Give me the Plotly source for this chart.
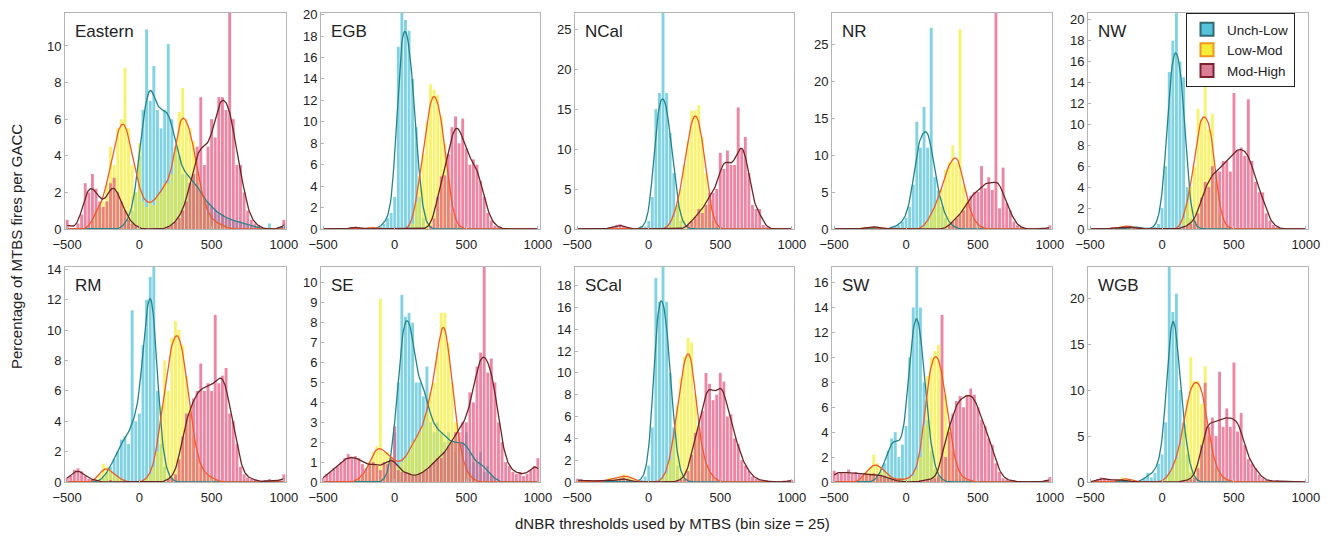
import numpy as np
import plotly.graph_objects as go

# ---------------- data ----------------
BIN_CENTERS = list(range(-500, 1001, 25))   # 61 bins (dNBR, bin size 25)
REGIONS = ["Eastern", "EGB", "NCal", "NR", "NW", "RM", "SE", "SCal", "SW", "WGB"]
SERIES = ["Unch-Low", "Low-Mod", "Mod-High"]
Y_MAX = [11.8, 20.15, 27.0, 29.2, 20.65, 14.15, 10.8, 19.7, 17.25, 23.4]
Y_DTICK = [2, 2, 5, 5, 2, 2, 1, 2, 2, 5]
X_TICKS = [-500, 0, 500, 1000]

# each list: centres -500..-275 | -250..-25 | 0..225 | 250..475 | 500..725 | 750..975 | 1000
EASTERN_UL = [0,0,0,0,0,0,0,0,0,0,
              0,0,0,0,0,0,0.3,0.5,1.0,2.0,
              4.0,6.5,10.9,7.0,8.9,6.5,5.5,6.5,10.1,6.0,
              4.5,4.0,3.0,3.0,2.5,3.0,2.5,2.0,1.5,1.5,
              1.2,1.0,0.8,0.8,0.6,0.5,0.5,0.4,0.4,0.3,
              0.2,0.2,0.1,0,0,0,0.3,0,0,0,
              0.3]
EASTERN_LM = [0,0,0,0,0,0,0,0.5,1.0,1.2,
              1.5,2.5,4.5,3.5,5.5,6.0,8.8,5.5,3.5,2.0,
              4.7,1.5,1.2,1.5,1.3,1.8,2.0,2.5,2.5,3.0,
              4.5,6.4,7.7,6.0,5.5,4.8,3.0,2.0,1.5,0.8,
              0.5,0.4,0.3,0.2,0.1,0,0,0,0,0,
              0,0,0,0,0,0,0,0,0,0,
              0]
EASTERN_MH = [0.5,0,0,0.3,0.8,2.5,2.0,3.0,2.2,1.5,
              1.2,1.5,2.5,2.8,2.0,1.5,1.0,0.5,0.3,0.2,
              0,0,0,0,0,0,0,0,0.1,0.2,
              0.4,0.6,1.0,1.5,2.5,3.0,4.5,7.2,3.5,4.5,
              6.0,5.0,7.2,7.2,6.5,11.8,6.0,3.5,3.5,2.0,
              1.0,0.5,0.3,0.2,0,0,0,0,0,0,
              0.5]

EGB_UL = [0,0,0,0,0,0,0,0,0,0,
          0,0,0,0,0,0,0.2,0.5,1.0,1.5,
          3.0,17.0,20.5,19.5,18.5,14.0,9.5,3.0,1.0,0.3,
          0,0,0,0,0,0,0,0,0,0,
          0,0,0,0,0,0,0,0,0,0,
          0,0,0,0,0,0,0,0,0,0,
          0]
EGB_LM = [0,0,0,0,0,0,0,0,0,0,
          0,0,0,0.2,0.2,0,0,0,0,0,
          0,0,0,0,0,0.5,2.5,5.0,7.0,10.0,
          13.5,13.0,12.5,10.5,8.0,4.5,1.5,0.5,0.2,0,
          0,0,0,0,0,0,0,0,0,0,
          0,0,0,0,0,0,0,0,0,0,
          0]
EGB_MH = [0,0,0,0,0,0,0,0,0.2,0.2,
          0.1,0,0,0,0,0,0,0,0,0,
          0,0,0,0,0,0,0,0,0,0,
          0.3,1.0,3.0,4.9,5.0,7.0,9.5,10.5,8.0,10.3,
          7.5,6.0,6.5,6.0,4.5,3.0,1.5,0.8,0.3,0.2,
          0,0,0,0,0,0,0,0,0,0,
          0]

NCAL_UL = [0,0,0,0,0,0,0,0,0,0,
           0,0,0,0,0,0,0,0,0.2,0.3,
           1.0,4.0,15.0,17.0,27.5,17.0,12.0,7.0,3.0,1.0,
           0.3,0,0,0,0,0,0,0,0,0,
           0,0,0,0,0,0,0,0,0,0,
           0,0,0,0,0,0,0,0,0,0,
           0]
NCAL_LM = [0,0,0,0,0,0,0,0,0,0,
           0,0,0,0,0,0,0,0,0,0,
           0,0,0,0,0,0,0.5,1.5,3.0,5.0,
           8.0,11.0,14.8,14.8,15.5,11.5,7.0,3.0,1.0,0.3,
           0,0,0,0,0,0,0,0,0,0,
           0,0,0,0,0,0,0,0,0,0,
           0]
NCAL_MH = [0,0,0,0,0,0,0,0,0,0.1,
           0.3,0.5,0.6,0.4,0.2,0,0,0,0,0,
           0,0,0,0,0,0,0,0,0,0,
           0,0.5,1.0,1.5,2.5,2.0,3.0,4.5,4.5,5.0,
           9.5,7.5,9.8,8.0,8.0,15.2,10.0,11.5,7.0,3.0,
           2.5,2.5,0.5,0.2,0,0,0,0,0,0,
           0]

NR_UL = [0,0,0,0,0,0,0,0,0,0,
         0,0,0,0,0,0,0.2,0.3,0.5,1.0,
         1.5,3.0,6.0,14.5,11.0,16.5,11.0,27.2,7.0,5.2,
         3.0,1.5,0.8,0.3,0.1,0,0,0,0,0,
         0,0,0,0,0,0,0,0,0,0,
         0,0,0,0,0,0,0,0,0,0,
         0]
NR_LM = [0,0,0,0,0,0,0,0,0.2,0.2,
         0.2,0.2,0.2,0.2,0.1,0,0,0,0,0,
         0,0,0,0,0,0.3,1.0,2.0,3.0,4.0,
         5.5,8.0,9.0,11.3,9.0,27.0,6.0,4.0,2.0,1.0,
         0.4,0.2,0,0,0,0,0,0,0,0,
         0,0,0,0,0,0,0,0,0,0,
         0]
NR_MH = [0,0,0,0,0,0,0,0,0,0.2,
         0.3,0.3,0.3,0.2,0,0,0,0,0,0,
         0,0,0,0,0,0,0,0,0,0,
         0,0,0.5,1.0,1.5,2.0,2.5,3.5,4.5,5.0,
         5.0,8.5,5.5,7.0,5.3,29.5,2.8,8.3,3.5,2.5,
         1.0,0.5,0.2,0,0,0,0,0,0,0,
         0.5]

NW_UL = [0,0,0,0,0,0,0,0,0,0,
         0,0.2,0.2,0.2,0.2,0,0,0,0.2,0.5,
         2.0,6.0,15.0,18.0,20.8,16.0,14.5,4.0,1.0,0.3,
         0,0,0,0,0,0,0,0,0,0,
         0,0,0,0,0,0,0,0,0,0,
         0,0,0,0,0,0,0,0,0,0,
         0]
NW_LM = [0,0,0,0,0,0,0,0,0.2,0.3,
         0.3,0.3,0.2,0,0,0,0,0,0,0,
         0,0,0,0,0,0,1.0,2.5,4.0,6.0,
         11.5,10.5,14.0,9.5,11.0,4.5,1.5,0.5,0.2,0,
         0,0,0,0,0,0,0,0,0,0,
         0,0,0,0,0,0,0,0,0,0,
         0]
NW_MH = [0,0,0,0,0,0,0.1,0.1,0.1,0.1,
         0.2,0.3,0.2,0,0,0,0,0,0,0,
         0,0,0,0,0,0,0.2,0.3,0.5,0.8,
         1.5,3.0,4.5,4.0,6.0,5.5,5.5,6.5,6.5,5.5,
         13.0,7.5,7.8,7.0,12.4,6.5,4.5,3.5,3.5,1.5,
         0.8,0.4,0.2,0,0,0,0,0,0,0,
         0]

RM_UL = [0,0,0,0,0,0,0,0,0,0,
         0.3,0.6,1.0,1.5,2.0,2.8,3.0,2.5,11.3,4.0,
         4.5,9.0,12.0,13.5,14.2,6.0,2.5,1.0,0.3,0.1,
         0,0,0,0,0,0,0,0,0,0,
         0,0,0,0,0,0,0,0,0,0,
         0,0,0,0,0,0,0,0,0,0,
         0]
RM_LM = [0,0,0,0,0,0,0,0,0.2,0.5,
         1.2,1.0,0.8,0.5,0.3,0.2,0,0,0,0,
         0,0,0.2,0.5,1.0,2.0,5.0,8.0,6.0,9.5,
         10.6,10.0,9.0,7.0,5.0,3.0,1.5,1.0,0.6,0.4,
         0.3,0.2,0,0,0,0,0,0,0,0,
         0,0,0,0,0,0,0,0,0,0,
         0]
RM_MH = [0.3,0.4,0.8,0.9,0.7,0.4,0.2,0.2,0.1,0,
         0,0,0.1,0,0,0,0,0,0,0,
         0,0,0,0,0,0,0,0,0.2,0.3,
         0.5,1.5,3.0,4.5,4.5,5.5,6.0,7.8,6.0,6.5,
         6.0,11.0,6.5,7.0,7.5,4.5,4.0,2.5,1.0,0.5,
         0.3,0.2,0.2,0,0,0.1,0.2,0,0,0.1,
         0.5]

SE_UL = [0,0,0,0,0,0,0,0,0,0,
         0,0,0,0,0,0,0,0,0.3,1.0,
         2.5,5.0,9.4,8.3,8.5,8.0,5.0,5.0,4.3,5.8,
         3.0,2.5,3.0,2.5,2.0,2.5,2.0,1.5,2.0,2.0,
         2.5,1.5,1.0,1.0,1.5,0.5,0.8,0.3,0.2,0,
         0,0,0,0,0,0,0,0,0,0,
         0]
SE_LM = [0,0,0,0,0,0,0,0,0,0,
         0.2,0.3,0.5,1.0,1.5,1.8,9.2,1.5,1.5,1.2,
         1.0,0.8,1.0,1.2,1.5,2.0,2.2,2.5,2.8,3.5,
         4.5,5.0,6.5,8.5,8.5,7.0,5.0,3.0,2.0,1.0,
         0.5,0.3,0.1,0,0,0,0,0,0,0,
         0,0,0,0,0,0,0,0,0,0,
         0]
SE_MH = [0.2,0.4,0.5,0.7,0.8,1.0,1.2,1.4,1.2,1.3,
         1.2,0.9,0.7,0.9,1.0,0.8,0.6,1.0,0.9,1.2,
         2.8,0.6,0.5,0.5,0.4,0.3,0.3,0.4,0.5,0.6,
         0.8,1.0,1.2,1.2,1.5,1.8,2.0,2.5,2.5,3.0,
         3.0,4.5,4.0,5.8,6.5,10.8,5.5,6.2,5.0,3.0,
         2.0,1.0,0.8,0.5,0.4,0.5,0.3,0.4,0.6,0.8,
         1.2]

SCAL_UL = [0,0,0,0,0,0,0,0,0,0,
           0,0,0,0,0,0,0,0,0.2,0.5,
           1.5,5.0,18.7,16.5,19.8,16.5,10.0,5.0,1.5,0.5,
           0.2,0,0,0,0,0,0,0,0,0,
           0,0,0,0,0,0,0,0,0,0,
           0,0,0,0,0,0,0,0,0,0,
           0]
SCAL_LM = [0,0,0,0,0,0,0,0,0.2,0.4,
           0.3,0.3,0.5,0.7,0.6,0.4,0.2,0,0,0,
           0,0,0,0,0.3,0.8,2.0,4.0,7.0,9.5,
           11.5,13.2,12.8,8.0,4.5,2.5,1.5,0.8,0.4,0.2,
           0,0,0,0,0,0,0,0,0,0,
           0,0,0,0,0,0,0,0,0,0,
           0]
SCAL_MH = [0.3,0.2,0.1,0.1,0.1,0.1,0.1,0.1,0.1,0.1,
           0.1,0.2,0.3,0.4,0.3,0.1,0,0,0,0,
           0,0,0,0,0,0,0,0,0.1,0.2,
           0.3,1.0,2.5,4.5,5.0,6.5,10.0,9.0,7.5,8.0,
           10.0,9.2,6.0,6.2,4.0,3.5,2.0,1.5,1.0,0.5,
           0.3,0.2,0.1,0.1,0,0,0,0,0,0.1,
           0.2]

SW_UL = [0,0,0,0,0,0,0,0,0,0,
         0,0,0.3,0.8,1.5,2.5,3.5,4.0,2.0,3.0,
         4.5,10.0,14.0,17.3,14.0,8.0,5.0,2.5,1.0,0.3,
         0.2,0,0,0,0,0,0,0,0,0,
         0,0,0,0,0,0,0,0,0,0,
         0,0,0,0,0,0,0,0,0,0,
         0]
SW_LM = [0,0,0,0,0,0,0,0,0.5,0.8,
         1.2,2.2,1.5,1.2,0.8,0.5,0.3,0.2,0.2,0.2,
         0.2,0.3,0.5,1.0,2.0,4.5,8.5,10.0,10.5,11.0,
         9.0,7.0,4.5,2.5,1.0,0.5,0.3,0.2,0.1,0,
         0,0,0,0,0,0,0,0,0,0,
         0,0,0,0,0,0,0,0,0,0,
         0]
SW_MH = [0.9,0.7,0.8,0.7,1.0,0.7,0.8,0.7,0.6,0.6,
         0.6,0.7,0.6,0.5,0.5,0.3,0.2,0.1,0.1,0,
         0,0,0,0,0.1,0.1,0.2,0.2,0.3,0.5,
         13.4,2.0,4.0,5.5,6.5,6.9,6.0,7.0,7.5,7.0,
         6.0,5.0,4.5,3.5,3.0,1.5,0.8,0.3,0.2,0.1,
         0.1,0,0,0,0,0,0,0,0,0.1,
         0.4]

WGB_UL = [0,0,0,0,0,0,0,0,0,0,
          0,0,0,0,0,0.5,1.0,0.5,1.0,2.0,
          3.0,6.5,23.5,18.5,20.5,10.0,6.5,3.0,1.0,0.3,
          0,0,0,0,0,0,0,0,0,0,
          0,0,0,0,0,0,0,0,0,0,
          0,0,0,0,0,0,0,0,0,0,
          0]
WGB_LM = [0,0,0,0,0,0,0,0,0.3,0.5,
          0.4,0.3,0.2,0,0,0,0,0,0,0,
          0,0.3,0.8,1.5,2.5,4.0,6.0,9.0,13.6,11.0,
          11.0,8.5,12.6,5.0,3.0,1.5,0.8,0.4,0.2,0.1,
          0,0,0,0,0,0,0,0,0,0,
          0,0,0,0,0,0,0,0,0,0,
          0]
WGB_MH = [0,0,0.3,0.5,0.4,0.3,0.2,0.2,0.2,0.2,
          0.2,0.1,0,0,0,0,0,0,0,0,
          0,0,0,0,0,0,0.1,0.2,0.3,0.5,
          1.5,4.0,10.8,6.0,7.0,5.0,12.0,6.0,8.0,6.0,
          13.0,5.5,7.5,4.0,2.5,2.0,1.5,0.8,0.4,0.2,
          0.1,0.1,0.2,0.1,0,0,0,0,0,0,
          0]

DATA = {
    "Eastern": (EASTERN_UL, EASTERN_LM, EASTERN_MH),
    "EGB": (EGB_UL, EGB_LM, EGB_MH),
    "NCal": (NCAL_UL, NCAL_LM, NCAL_MH),
    "NR": (NR_UL, NR_LM, NR_MH),
    "NW": (NW_UL, NW_LM, NW_MH),
    "RM": (RM_UL, RM_LM, RM_MH),
    "SE": (SE_UL, SE_LM, SE_MH),
    "SCal": (SCAL_UL, SCAL_LM, SCAL_MH),
    "SW": (SW_UL, SW_LM, SW_MH),
    "WGB": (WGB_UL, WGB_LM, WGB_MH),
}

# ---------------- style ----------------
W, H = 1340, 541
OFF = 8  # default page body margin that offsets the plot div
COL_PX = [(65, 286), (321, 540), (575, 794), (832, 1052), (1088, 1308)]
ROW_PX = [(13, 229), (267, 482)]
BAR_COLORS = ["rgb(70,190,215)", "rgb(245,236,40)", "rgb(228,78,122)"]
BAR_OPACITY = 0.68
LINE_COLORS = ["#23858b", "#f05a28", "#6b2626"]
LEG_FILL = ["#55c3da", "#f6ec35", "#dc7d98"]
LEG_EDGE = ["#2e6b72", "#f0951f", "#7a2230"]
FONT = "Liberation Sans, Arial, Helvetica, sans-serif"
SIGMA = 28.0


def px_x(p):
    return (p - OFF) / W


def px_y(p):
    return 1 - (p - OFF) / H


def smooth_curve(vals):
    v = np.asarray(vals, dtype=float)
    n = len(v)
    m = v.copy()
    for i in range(1, n - 1):
        m[i] = np.median(v[i - 1:i + 2])
    c = np.asarray(BIN_CENTERS[:n], dtype=float)
    xs = np.arange(-500.0, 1000.01, 5.0)
    k = np.exp(-((xs[:, None] - c[None, :]) ** 2) / (2 * SIGMA ** 2))
    k *= 25.0 / (SIGMA * np.sqrt(2 * np.pi))
    return xs, k @ m


fig = go.Figure()
layout = dict(
    width=W, height=H, autosize=False,
    margin=dict(l=0, r=0, t=0, b=0, pad=0),
    paper_bgcolor="white", plot_bgcolor="white",
    barmode="overlay", bargap=0.2,
    font=dict(family=FONT, size=13, color="#222"),
    showlegend=True,
)
annotations = []

for idx, region in enumerate(REGIONS):
    r, c = divmod(idx, 5)
    ax = "" if idx == 0 else str(idx + 1)
    x0, x1 = COL_PX[c]
    yt, yb = ROW_PX[r]
    xdom = [px_x(x0), px_x(x1)]
    ydom = [px_y(yb), px_y(yt)]
    layout["xaxis" + ax] = dict(
        domain=xdom, anchor="y" + ax, range=[-515, 1015], automargin=False,
        tickvals=X_TICKS, showgrid=False, zeroline=False,
        showline=True, mirror=True, linecolor="#b5b5b5", linewidth=1,
        ticks="inside", ticklen=3, tickcolor="#b5b5b5",
        ticklabelstandoff=3, ticklabeloverflow="allow",
        tickfont=dict(size=13, color="#222"),
    )
    layout["yaxis" + ax] = dict(
        domain=ydom, anchor="x" + ax, range=[0, Y_MAX[idx]], automargin=False,
        tick0=0, dtick=Y_DTICK[idx], showgrid=False, zeroline=False,
        showline=True, mirror=True, linecolor="#b5b5b5", linewidth=1,
        ticks="inside", ticklen=3, tickcolor="#b5b5b5",
        ticklabeloverflow="allow",
        tickfont=dict(size=13, color="#222"),
    )
    series = DATA[region]
    for s in range(3):
        fig.add_trace(go.Bar(
            x=BIN_CENTERS, y=series[s], width=20,
            marker=dict(color=BAR_COLORS[s], line=dict(width=0)),
            opacity=BAR_OPACITY, showlegend=False, hoverinfo="skip",
            xaxis="x" + ax, yaxis="y" + ax,
        ))
    for s in range(3):
        xs, ys = smooth_curve(series[s])
        fig.add_trace(go.Scatter(
            x=xs, y=ys, mode="lines",
            line=dict(color=LINE_COLORS[s], width=1.3),
            showlegend=False, hoverinfo="skip",
            xaxis="x" + ax, yaxis="y" + ax,
        ))
    annotations.append(dict(
        text=region, xref="paper", yref="paper",
        x=px_x(x0 + 8), y=px_y(yt + 7), xanchor="left", yanchor="top",
        showarrow=False, font=dict(family=FONT, size=17, color="#222"),
    ))

for s in range(3):
    fig.add_trace(go.Scatter(
        x=[None], y=[None], mode="markers", name=SERIES[s],
        marker=dict(symbol="square", size=13, color=LEG_FILL[s],
                    line=dict(color=LEG_EDGE[s], width=2)),
        xaxis="x5", yaxis="y5",
    ))

layout["legend"] = dict(
    x=px_x(1186), y=px_y(13), xanchor="left", yanchor="top",
    bgcolor="white", bordercolor="#222", borderwidth=1,
    font=dict(family=FONT, size=13.5, color="#222"),
    itemwidth=30, tracegroupgap=0,
)

annotations.append(dict(
    text="Percentage of MTBS fires per GACC", xref="paper", yref="paper",
    x=px_x(16), y=px_y(247), textangle=-90, showarrow=False,
    xanchor="center", yanchor="middle",
    font=dict(family=FONT, size=15, color="#222"),
))
annotations.append(dict(
    text="dNBR thresholds used by MTBS (bin size = 25)", xref="paper", yref="paper",
    x=px_x(672), y=px_y(523), showarrow=False,
    xanchor="center", yanchor="middle",
    font=dict(family=FONT, size=15, color="#222"),
))
layout["annotations"] = annotations
fig.update_layout(**layout)
fig.write_html("out.html")
